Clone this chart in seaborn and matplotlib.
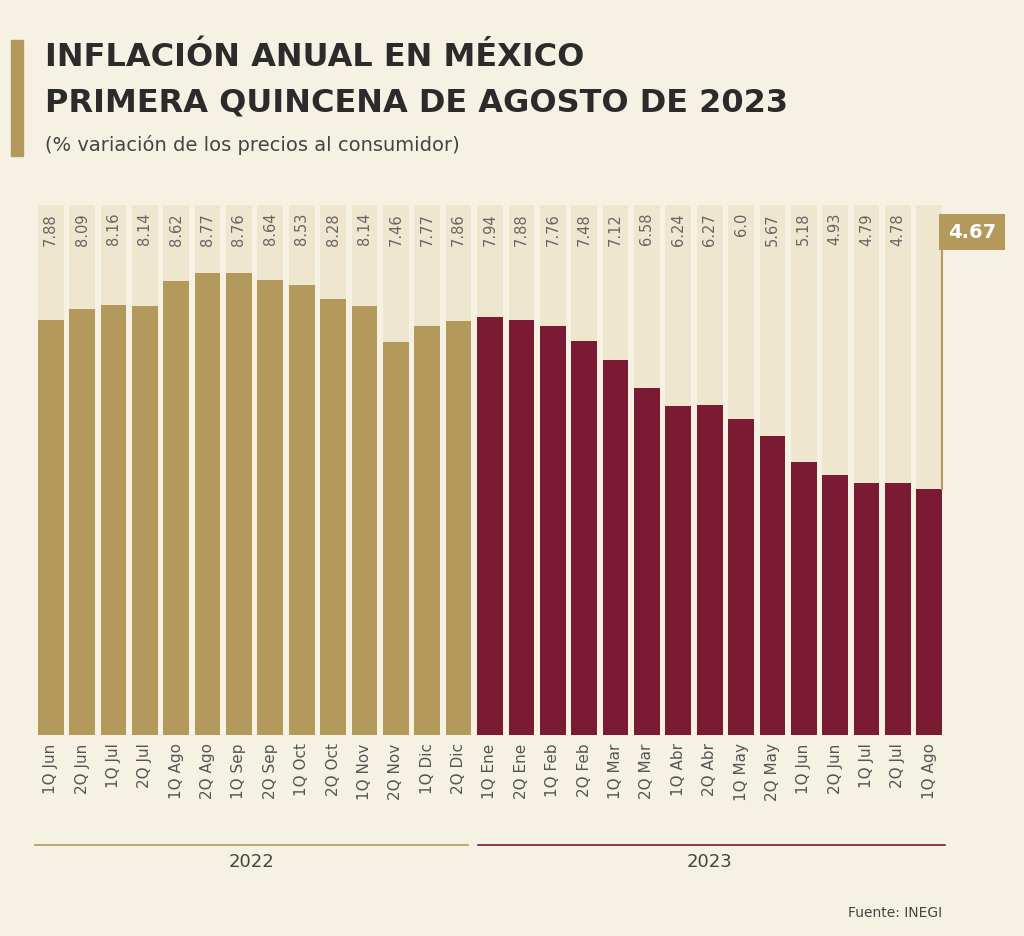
import matplotlib
matplotlib.use("Agg")
import matplotlib.pyplot as plt
import seaborn as sns
import pandas as pd

labels = ["1Q Jun","2Q Jun","1Q Jul","2Q Jul","1Q Ago","2Q Ago","1Q Sep","2Q Sep","1Q Oct","2Q Oct",
          "1Q Nov","2Q Nov","1Q Dic","2Q Dic","1Q Ene","2Q Ene","1Q Feb","2Q Feb","1Q Mar","2Q Mar",
          "1Q Abr","2Q Abr","1Q May","2Q May","1Q Jun","2Q Jun","1Q Jul","2Q Jul","1Q Ago"]
values = [7.88,8.09,8.16,8.14,8.62,8.77,8.76,8.64,8.53,8.28,8.14,7.46,7.77,7.86,
          7.94,7.88,7.76,7.48,7.12,6.58,6.24,6.27,6.0,5.67,5.18,4.93,4.79,4.78,4.67]
years = ["2022"]*14 + ["2023"]*15
texts = ["7.88","8.09","8.16","8.14","8.62","8.77","8.76","8.64","8.53","8.28","8.14","7.46","7.77","7.86",
         "7.94","7.88","7.76","7.48","7.12","6.58","6.24","6.27","6.0","5.67","5.18","4.93","4.79","4.78",""]

GOLD = "#b39a5c"; MAROON = "#7b1a33"; BG = "#f6f2e3"
df = pd.DataFrame({"x": range(len(values)), "v": values, "year": years})

fig = plt.figure(figsize=(10.24, 9.36), dpi=100, facecolor=BG)
ax = fig.add_axes([35/1024, 1-735/936, 910/1024, 530/936])
ax.set_facecolor(BG)
ymax = 530/52.7
sns.barplot(data=df, x="x", y=[ymax]*len(values), color="#efe6cf", width=0.82, ax=ax, saturation=1)
sns.barplot(data=df, x="x", y="v", hue="year", palette={"2022": GOLD, "2023": MAROON},
            width=0.82, ax=ax, saturation=1, legend=False, dodge=False)
ax.set_ylim(0, ymax)
ax.set_xlim(-0.5, len(values)-0.5)
for s in ax.spines.values(): s.set_visible(False)
ax.set_yticks([]); ax.set_ylabel(""); ax.set_xlabel("")
ax.set_xticks(range(len(values)))
ax.set_xticklabels(labels, rotation=90, fontsize=11, color="#555555")
ax.tick_params(axis="x", length=0, pad=6)
for i, t in enumerate(texts):
    if t:
        ax.text(i, ymax-0.15, t, rotation=90, ha="center", va="top", fontsize=10.5, color="#666666")

ax.plot([len(values)-1+0.4]*2, [values[-1], ymax-0.32], color=GOLD, lw=1.5, clip_on=False)
fig.text(972/1024, 1-232/936, "4.67", ha="center", va="center", fontsize=14, fontweight="bold",
         color="white", bbox=dict(boxstyle="square,pad=0.45", fc=GOLD, ec="none"))

fig.add_artist(plt.Line2D([35/1024, 468/1024], [1-845/936]*2, color=GOLD, lw=1.2))
fig.add_artist(plt.Line2D([478/1024, 945/1024], [1-845/936]*2, color=MAROON, lw=1.2))
fig.text(251/1024, 1-862/936, "2022", ha="center", va="center", fontsize=13, color="#444444")
fig.text(710/1024, 1-862/936, "2023", ha="center", va="center", fontsize=13, color="#444444")
fig.text(942/1024, 1-913/936, "Fuente: INEGI", ha="right", va="center", fontsize=10, color="#444444")

fig.add_artist(plt.Rectangle((11/1024, 1-156/936), 12/1024, 116/936, color=GOLD))
fig.text(45/1024, 1-58/936, "INFLACIÓN ANUAL EN MÉXICO", fontsize=23, fontweight="bold", color="#2b2b2b", va="center")
fig.text(45/1024, 1-103/936, "PRIMERA QUINCENA DE AGOSTO DE 2023", fontsize=23, fontweight="bold", color="#2b2b2b", va="center")
fig.text(45/1024, 1-145/936, "(% variación de los precios al consumidor)", fontsize=14, color="#444444", va="center")

fig.savefig("out.png", dpi=100, facecolor=BG)
